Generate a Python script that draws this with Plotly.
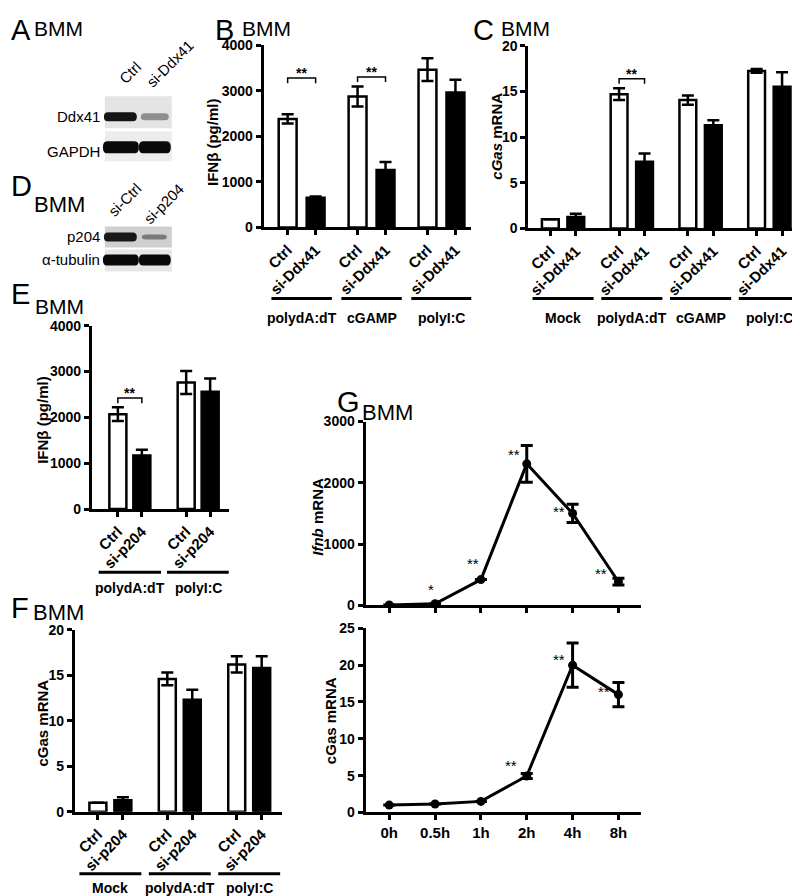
import plotly.graph_objects as go

W, H = 800, 896
FONT = "Liberation Sans, Arial, sans-serif"

# The page shows the figure slightly offset/compressed vertically – map reference pixels to paper coords
OX, OY, SY = 0.0, 17.0, 0.98


def px(x):
    return (x - OX) / W


def py(y):
    return 1 - ((y - OY) / SY) / H


# ---------------- data ----------------
# Panel B  (IFNb ELISA, si-Ddx41)
b_groups = ["polydA:dT", "cGAMP", "polyI:C"]
b_lanes = ["Ctrl", "si-Ddx41"]
b_ctrl = [2380, 2870, 3460]
b_ctrl_err = [100, 220, 250]
b_si = [650, 1260, 2960]
b_si_err = [30, 175, 280]
b_sig = ["**", "**", ""]
b_sig_y = [3275, 3300, 0]

# Panel C  (cGas mRNA, si-Ddx41)
c_groups = ["Mock", "polydA:dT", "cGAMP", "polyI:C"]
c_lanes = ["Ctrl", "si-Ddx41"]
c_ctrl = [1.0, 14.7, 14.05, 17.25]
c_ctrl_err = [0.0, 0.65, 0.5, 0.2]
c_si = [1.25, 7.3, 11.3, 15.5]
c_si_err = [0.35, 0.9, 0.55, 1.6]
c_sig = ["", "**", "", ""]
c_sig_y = [0, 16.4, 0, 0]

# Panel E  (IFNb ELISA, si-p204)
e_groups = ["polydA:dT", "polyI:C"]
e_lanes = ["Ctrl", "si-p204"]
e_ctrl = [2070, 2760]
e_ctrl_err = [150, 250]
e_si = [1170, 2560]
e_si_err = [125, 290]
e_sig = ["**", ""]
e_sig_y = [2420, 0]

# Panel F  (cGas mRNA, si-p204)
f_groups = ["Mock", "polydA:dT", "polyI:C"]
f_lanes = ["Ctrl", "si-p204"]
f_ctrl = [1.0, 14.6, 16.2]
f_ctrl_err = [0.0, 0.7, 0.9]
f_si = [1.25, 12.3, 15.8]
f_si_err = [0.35, 1.1, 1.3]

# Panel G  (time course)
g_times = ["0h", "0.5h", "1h", "2h", "4h", "8h"]
g_ifnb = [5, 25, 420, 2310, 1500, 385]
g_ifnb_err = [0, 0, 0, 300, 150, 55]
g_ifnb_sig = ["", "*", "**", "**", "**", "**"]
g_cgas = [1.0, 1.15, 1.5, 4.95, 20.0, 16.0]
g_cgas_err = [0, 0, 0, 0.35, 3.0, 1.65]
g_cgas_sig = ["", "", "", "**", "**", "**"]
# star label offsets (px, relative to point)
g_ifnb_sig_dx = [0, -4, -8, -13, -14, -17]
g_ifnb_sig_dy = [0, 8, 10, 3, -4, 2]
g_cgas_sig_dx = [0, 0, 0, -16, -14, -14]
g_cgas_sig_dy = [0, 0, 0, 4, 0, -3]

# Western blots
a_lanes = ["Ctrl", "si-Ddx41"]
a_rows = ["Ddx41", "GAPDH"]
d_lanes = ["si-Ctrl", "si-p204"]
d_rows = ["p204", "\u03b1-tubulin"]

fig = go.Figure()
shapes = []
annotations = []


def yaxis(top, bot, rng, dtick, anchor, size=14):
    return dict(domain=[py(bot), py(top)], range=rng, anchor=anchor,
                showline=True, linecolor="black", linewidth=3,
                ticks="outside", ticklen=5, tickwidth=2.5, tickcolor="black",
                tick0=0, dtick=dtick, showgrid=False, zeroline=False,
                tickfont=dict(family=FONT, size=size, color="black", weight="bold"))


def xaxis(x0, x1, first, unit, tickvals, ticktext, anchor, angle=-45, size=15, show=True):
    r0 = -(first - x0) / unit
    r1 = r0 + (x1 - x0) / unit
    return dict(domain=[px(x0), px(x1)], range=[r0, r1], anchor=anchor,
                showline=True, linecolor="black", linewidth=3,
                ticks="outside", ticklen=5, tickwidth=2.5, tickcolor="black",
                tickmode="array", tickvals=tickvals, ticktext=ticktext,
                tickangle=angle, showticklabels=show,
                showgrid=False, zeroline=False,
                tickfont=dict(family=FONT, size=size, color="black", weight="bold"))


def bar_panel(xa, ya, groups, lanes, ctrl, ctrl_err, si, si_err, gstep, bw):
    xc = [g * gstep for g in range(len(groups))]
    xs = [g * gstep + 1 for g in range(len(groups))]
    fig.add_trace(go.Bar(x=xc, y=ctrl, width=bw,
                         marker=dict(color="white", line=dict(color="black", width=2.5)),
                         error_y=dict(type="data", array=ctrl_err, visible=True,
                                      color="black", thickness=2.5, width=6),
                         xaxis=xa, yaxis=ya, showlegend=False))
    fig.add_trace(go.Bar(x=xs, y=si, width=bw,
                         marker=dict(color="black", line=dict(color="black", width=2.5)),
                         error_y=dict(type="data", array=si_err, visible=True,
                                      color="black", thickness=2.5, width=6),
                         xaxis=xa, yaxis=ya, showlegend=False))
    tv, tt = [], []
    for a, b in zip(xc, xs):
        tv += [a, b]
        tt += lanes
    return xc, xs, tv, tt


def group_lines(xref, xc, xs, groups, half, line_y, label_y):
    for a, b, g in zip(xc, xs, groups):
        m = (a + b) / 2
        shapes.append(dict(type="line", xref=xref, yref="paper", x0=m - half, x1=m + half,
                           y0=py(line_y), y1=py(line_y), line=dict(color="black", width=3)))
        annotations.append(dict(x=m, y=py(label_y), xref=xref, yref="paper", text=g,
                                showarrow=False, xanchor="center", yanchor="middle",
                                font=dict(family=FONT, size=14, color="black", weight="bold")))


def brackets(xref, yref, xc, xs, sig, sig_y, leg):
    for a, b, s, yv in zip(xc, xs, sig, sig_y):
        if not s:
            continue
        shapes.append(dict(type="path", xref=xref, yref=yref,
                           path=f"M {a},{yv - leg} L {a},{yv} L {b},{yv} L {b},{yv - leg}",
                           line=dict(color="black", width=1.5)))
        annotations.append(dict(x=(a + b) / 2, y=yv, xref=xref, yref=yref, text=s,
                                showarrow=False, yanchor="bottom", yshift=-5,
                                font=dict(family=FONT, size=14, color="black", weight="bold")))


# ---- Panel B ----
xc, xs, tv, tt = bar_panel("x", "y", b_groups, b_lanes, b_ctrl, b_ctrl_err, b_si, b_si_err, 2.5, 0.64)
lay = {}
lay["xaxis"] = xaxis(255, 463, 279, 28, tv, tt, "y")
lay["yaxis"] = yaxis(46, 228, [0, 4000], 1000, "x")
group_lines("x", xc, xs, b_groups, 1.08, 299, 318)
brackets("x", "y", xc, xs, b_sig, b_sig_y, 110)

# ---- Panel C ----
xc, xs, tv, tt = bar_panel("x2", "y2", c_groups, c_lanes, c_ctrl, c_ctrl_err, c_si, c_si_err, 2.7, 0.66)
lay["xaxis2"] = xaxis(520, 798, 542, 25.5, tv, tt, "y2")
lay["yaxis2"] = yaxis(46.7, 229, [0, 20], 5, "x2")
group_lines("x2", xc, xs, c_groups, 1.2, 299, 318)
brackets("x2", "y2", xc, xs, c_sig, c_sig_y, 0.55)

# ---- Panel E ----
xc, xs, tv, tt = bar_panel("x3", "y3", e_groups, e_lanes, e_ctrl, e_ctrl_err, e_si, e_si_err, 2.85, 0.71)
lay["xaxis3"] = xaxis(83, 220, 109, 24, tv, tt, "y3")
lay["yaxis3"] = yaxis(326, 509, [0, 4000], 1000, "x3")
group_lines("x3", xc, xs, e_groups, 1.3, 572, 588)
brackets("x3", "y3", xc, xs, e_sig, e_sig_y, 110)

# ---- Panel F ----
xc, xs, tv, tt = bar_panel("x4", "y4", f_groups, f_lanes, f_ctrl, f_ctrl_err, f_si, f_si_err, 2.78, 0.68)
lay["xaxis4"] = xaxis(66, 273, 89, 25, tv, tt, "y4")
lay["yaxis4"] = yaxis(629.5, 811, [0, 20], 5, "x4")
group_lines("x4", xc, xs, f_groups, 1.24, 873, 887)

# ---- Panel G ----
gx = list(range(len(g_times)))
for xa, ya, vals, errs in [("x5", "y5", g_ifnb, g_ifnb_err), ("x6", "y6", g_cgas, g_cgas_err)]:
    fig.add_trace(go.Scatter(x=gx, y=vals, mode="lines+markers",
                             line=dict(color="black", width=3),
                             marker=dict(color="black", size=9),
                             error_y=dict(type="data", array=errs, visible=True,
                                          color="black", thickness=3, width=6),
                             xaxis=xa, yaxis=ya, showlegend=False))
lay["xaxis5"] = xaxis(357, 633, 380.7, 45.9, gx, g_times, "y5", angle=0, show=False)
lay["yaxis5"] = yaxis(421.7, 605, [0, 3000], 1000, "x5", size=14)
lay["xaxis6"] = xaxis(357, 633, 380.7, 45.9, gx, g_times, "y6", angle=0, size=15)
lay["yaxis6"] = yaxis(628, 811.7, [0, 25], 5, "x6", size=14)

for xa, ya, vals, sigs, dxs, dys in [("x5", "y5", g_ifnb, g_ifnb_sig, g_ifnb_sig_dx, g_ifnb_sig_dy),
                                      ("x6", "y6", g_cgas, g_cgas_sig, g_cgas_sig_dx, g_cgas_sig_dy)]:
    for i, (v, s, dx, dy) in enumerate(zip(vals, sigs, dxs, dys)):
        if not s:
            continue
        annotations.append(dict(x=i, y=v, xref=xa, yref=ya, text=s, showarrow=False,
                                xanchor="center", yanchor="middle", xshift=dx, yshift=dy + 6,
                                font=dict(family=FONT, size=15, color="black")))


# ---- axis titles ----
def ytitle(x, y, text):
    annotations.append(dict(x=px(x), y=py(y), xref="paper", yref="paper", text=text,
                            textangle=-90, showarrow=False, xanchor="center", yanchor="middle",
                            font=dict(family=FONT, size=15, color="black", weight="bold")))


ytitle(204, 143, "IFN\u03b2 (pg/ml)")
ytitle(488, 137, "<i>cGas</i> mRNA")
ytitle(34, 420, "IFN\u03b2 (pg/ml)")
ytitle(34, 722, "cGas mRNA")
ytitle(308, 517, "<i>Ifnb</i> mRNA")
ytitle(322, 720, "cGas mRNA")


# ---- panel letters ----
def letter(x, y, t, bx, by, top=False, left=False, bsize=22):
    a = dict(text=t, xref="paper", yref="paper", showarrow=False,
             font=dict(family=FONT, size=29, color="black"))
    if left:
        a.update(x=0, xanchor="left")
    else:
        a.update(x=px(x), xanchor="center")
    if top:
        a.update(y=1, yanchor="top", yshift=4)
    else:
        a.update(y=py(y), yanchor="middle")
    annotations.append(a)
    annotations.append(dict(x=px(bx), y=py(by), xref="paper", yref="paper", text="BMM",
                            showarrow=False, xanchor="center", yanchor="middle",
                            font=dict(family=FONT, size=bsize, color="black")))


letter(12, 15, "A", 50, 29, top=True, left=True, bsize=21)
letter(216, 15, "B", 258, 29, top=True, bsize=21)
letter(475, 16, "C", 517, 29, top=True, bsize=21)
letter(9, 187, "D", 51, 205, left=True)
letter(9, 294, "E", 51, 307, left=True, bsize=21)
letter(9, 608, "F", 50, 612, left=True)
letter(340, 402, "G", 379, 413)


# ---- western blots ----
def band(x0, x1, y0, y1, color):
    r = 4
    X0, X1 = px(x0), px(x1)
    Y0, Y1 = py(y0), py(y1)
    yc = (Y0 + Y1) / 2
    dx = r / W
    path = (f"M {X0},{yc} Q {X0},{Y0} {X0 + dx},{Y0} L {X1 - dx},{Y0} "
            f"Q {X1},{Y0} {X1},{yc} Q {X1},{Y1} {X1 - dx},{Y1} L {X0 + dx},{Y1} "
            f"Q {X0},{Y1} {X0},{yc} Z")
    shapes.append(dict(type="path", xref="paper", yref="paper", path=path,
                       fillcolor=color, line=dict(width=0)))


def box(x0, x1, y0, y1, color):
    shapes.append(dict(type="rect", xref="paper", yref="paper", x0=px(x0), x1=px(x1),
                       y0=py(y1), y1=py(y0), fillcolor=color, line=dict(width=0)))


def blot_label(y, t):
    annotations.append(dict(x=px(93), y=py(y), xref="paper", yref="paper", text=t,
                            showarrow=False, xanchor="right", yanchor="middle",
                            font=dict(family=FONT, size=15, color="black")))


def lane_label(x, y, t):
    annotations.append(dict(x=px(x), y=py(y), xref="paper", yref="paper", text=t,
                            textangle=-45, showarrow=False, xanchor="center", yanchor="middle",
                            font=dict(family=FONT, size=15, color="black")))


# A
box(96, 163, 97, 129, "#e4e4e4")
box(96, 163, 132, 162, "#ececec")
band(95, 128, 113, 122, "#151515")
band(132, 160, 114, 121, "#8e8e8e")
band(94, 130, 142, 154, "#0a0a0a")
band(130, 162, 142, 154, "#0a0a0a")
blot_label(117, a_rows[0])
blot_label(152, a_rows[1])
lane_label(121, 73, a_lanes[0])
lane_label(161, 64, a_lanes[1])

# D
box(96, 163, 227, 248, "#cfcfcf")
box(96, 163, 250, 272, "#e6e6e6")
band(95, 128, 233, 242, "#181818")
band(133, 158, 235, 240, "#7a7a7a")
band(94, 130, 255, 266, "#0a0a0a")
band(130, 162, 255, 266, "#0a0a0a")
blot_label(237, d_rows[0])
blot_label(260, d_rows[1])
lane_label(116, 200, d_lanes[0])
lane_label(155, 204, d_lanes[1])

fig.update_layout(
    width=W, height=H,
    margin=dict(l=0, r=0, t=0, b=0),
    paper_bgcolor="white", plot_bgcolor="white",
    barmode="overlay", showlegend=False,
    shapes=shapes, annotations=annotations,
    font=dict(family=FONT, color="black"),
    **lay,
)

fig.write_html("out.html")
